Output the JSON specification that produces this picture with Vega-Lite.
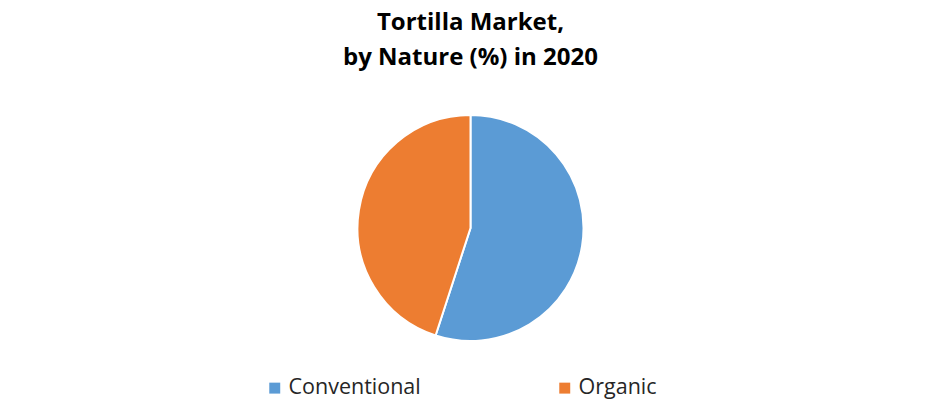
{
  "$schema": "https://vega.github.io/schema/vega-lite/v6.json",
  "width": 941,
  "height": 256,
  "autosize": {"type": "none"},
  "padding": {"top": 100, "left": 0, "right": 0, "bottom": 64},
  "background": "white",
  "title": {
    "text": ["Tortilla Market,", "by Nature (%) in 2020"],
    "font": "Open Sans",
    "fontSize": 24,
    "fontWeight": "bold",
    "color": "#000000",
    "lineHeight": 35,
    "anchor": "middle",
    "frame": "group",
    "offset": 30
  },
  "data": {
    "values": [
      {"nature": "Conventional", "share": 55},
      {"nature": "Organic", "share": 45}
    ]
  },
  "mark": {"type": "arc", "outerRadius": 113, "stroke": "white", "strokeWidth": 2},
  "encoding": {
    "theta": {"field": "share", "type": "quantitative", "stack": true},
    "order": {"field": "nature", "type": "nominal", "sort": "ascending"},
    "color": {
      "field": "nature",
      "type": "nominal",
      "scale": {"domain": ["Conventional", "Organic"], "range": ["#5B9BD5", "#ED7D31"]},
      "legend": {
        "title": null,
        "orient": "none",
        "legendX": 264,
        "legendY": 277,
        "direction": "horizontal",
        "symbolType": "square",
        "symbolSize": 120,
        "symbolStrokeWidth": 0,
        "labelFont": "Open Sans",
        "labelFontSize": 21.5,
        "labelColor": "#262626",
        "labelLimit": 0,
        "labelOffset": 3,
        "columnPadding": 133
      }
    }
  },
  "config": {
    "view": {"stroke": null}
  }
}
